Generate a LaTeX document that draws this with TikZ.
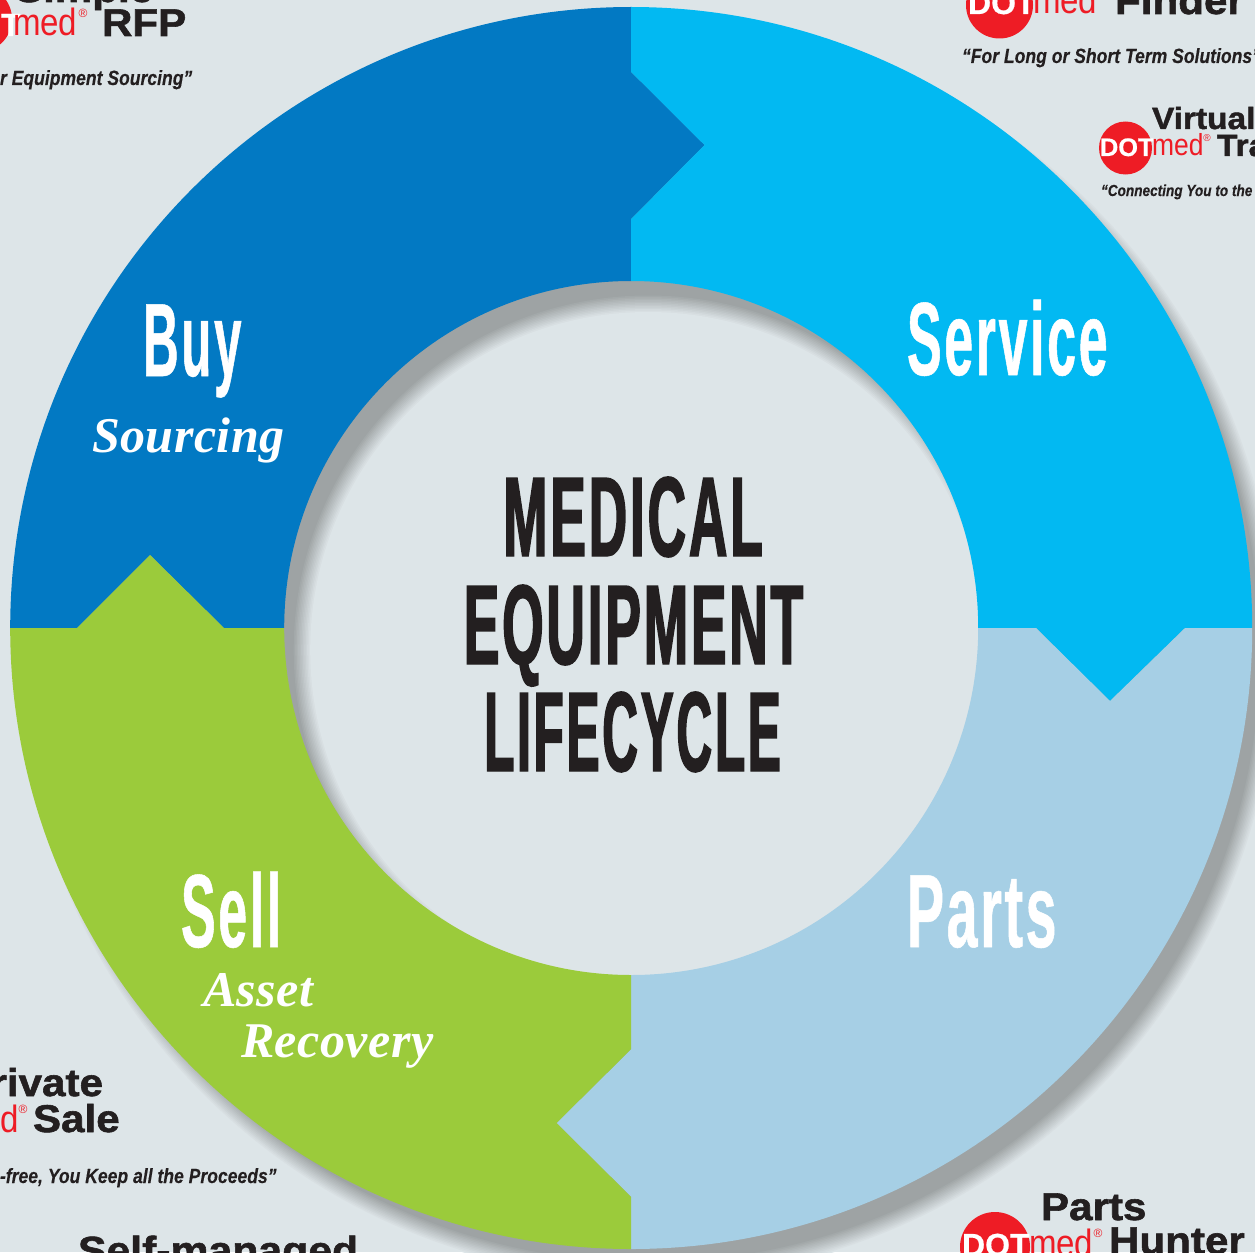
\documentclass[tikz,border=0pt]{standalone}
\usepackage{fontspec}
\setmainfont{Liberation Sans}
\newfontface\gothbig{Liberation Sans Bold}[FakeStretch=0.47,FakeBold=1.3,LetterSpace=2.5]
\newfontface\gothlife{Liberation Sans Bold}[FakeStretch=0.435,FakeBold=1.3,LetterSpace=2.5]
\newfontface\gothmid{Liberation Sans Bold}[FakeStretch=0.5,FakeBold=0.5,LetterSpace=2.5]
\newfontface\gothbuy{Liberation Sans Bold}[FakeStretch=0.475,FakeBold=0.5,LetterSpace=2.5]
\newfontface\gothpart{Liberation Sans Bold}[FakeStretch=0.535,FakeBold=0.5,LetterSpace=2.5]
\newfontface\ital{Liberation Serif Bold Italic}[LetterSpace=1]
\newfontface\heavy{Liberation Sans Bold}[FakeStretch=1.09,FakeBold=1.5]
\newfontface\tagf{Liberation Sans Bold Italic}[FakeStretch=0.85,FakeBold=0.2]
\newfontface\medf{Liberation Sans}[FakeStretch=0.87]
\newfontface\regf{Liberation Sans}
\newfontface\dotf{Liberation Sans Bold}[FakeBold=0.6]
\definecolor{bgc}{HTML}{DDE5E8}
\definecolor{buyc}{HTML}{0279C3}
\definecolor{servc}{HTML}{02B9F2}
\definecolor{partc}{HTML}{A6CFE5}
\definecolor{sellc}{HTML}{9BCB3B}
\definecolor{inkc}{HTML}{231F20}
\definecolor{redc}{HTML}{EE1C25}
\definecolor{shadc}{HTML}{9EA3A4}
\newcommand{\fsz}[1]{\fontsize{#1}{#1}\selectfont}
\tikzset{
  txt/.style={inner sep=0pt,outer sep=0pt,anchor=base},
  txtw/.style={inner sep=0pt,outer sep=0pt,anchor=base west},
  bigtitle/.style={txt,text=inkc,font=\gothbig\fsz{85pt}},
  stage/.style={txtw,text=white,font=\gothmid\fsz{78pt}},
  sub/.style={txtw,text=white,font=\ital\fsz{37.5pt}},
  heavytxt/.style={txtw,text=inkc,font=\heavy\fsz{29pt}},
  tagline/.style={txtw,text=inkc,font=\tagf\fsz{15.5pt}},
  redmed/.style={txtw,text=redc,font=\medf\fsz{28.5pt}},
  whitedot/.style={txtw,text=white,font=\dotf\fsz{19pt}},
  regmark/.style={inner sep=0pt,outer sep=0pt,anchor=center,text=redc,font=\regf\fsz{9pt}},
}
\begin{document}
\begin{tikzpicture}[x=0.75pt,y=0.75pt,yscale=-1]
\useasboundingbox (0,0) rectangle (1255,1252);
\clip (0,0) rectangle (1255,1252);
\fill[bgc] (0,0) rectangle (1255,1252);
\def\cx{631.2}\def\cy{628}\def\Ro{621}\def\Ri{347}
\def\dx{17}\def\dy{22}
% outer drop shadow, lightest to darkest
\foreach \k in {0,...,12}{
  \pgfmathsetmacro\mix{100*\k/12}
  \fill[shadc!\mix!bgc] (\cx+\dx,\cy+\dy) circle[radius={\Ro+9-1.5*\k}];
}
% shadow in the hole, dark to light
\foreach \k in {0,...,12}{
  \pgfmathsetmacro\mix{100-100*\k/12}
  \fill[shadc!\mix!bgc] (\cx+\dx,\cy+\dy) circle[radius={\Ri+9-1.5*\k}];
}
% ring segments
\fill[buyc] (\cx,\cy-\Ro) -- (\cx,72) -- (704.5,145) -- (\cx,219) -- (\cx,\cy-\Ri)
  arc[start angle=-90,end angle=-180,radius=\Ri] -- (224,\cy) -- (150,555) -- (77,\cy) -- (\cx-\Ro,\cy)
  arc[start angle=180,end angle=270,radius=\Ro] -- cycle;
\fill[servc] (\cx,\cy-\Ro) arc[start angle=-90,end angle=0,radius=\Ro]
  -- (1185,\cy) -- (1110,701) -- (1036,\cy) -- (\cx+\Ri,\cy)
  arc[start angle=0,end angle=-90,radius=\Ri] -- (\cx,219) -- (704.5,145) -- (\cx,72) -- cycle;
\fill[partc] (\cx+\Ro,\cy) arc[start angle=0,end angle=90,radius=\Ro]
  -- (\cx,1197) -- (556.5,1123) -- (\cx,1049) -- (\cx,\cy+\Ri)
  arc[start angle=90,end angle=0,radius=\Ri] -- (1036,\cy) -- (1110,701) -- (1185,\cy) -- cycle;
\fill[sellc] (\cx,\cy+\Ro) arc[start angle=90,end angle=180,radius=\Ro]
  -- (77,\cy) -- (150,555) -- (224,\cy) -- (\cx-\Ri,\cy)
  arc[start angle=180,end angle=90,radius=\Ri] -- (\cx,1049) -- (556.5,1123) -- (\cx,1197) -- cycle;
% centre title
\node[bigtitle] (t1) at (633,556) {MEDICAL};
\node[bigtitle] (t2) at (633.5,664) {EQUIPMENT};
\node[bigtitle,font=\gothlife\fsz{85pt}] (t3) at (632.5,771) {LIFECYCLE};
% stages
\node[stage,font=\gothbuy\fsz{78pt}] (buy) at (143,376) {Buy};
\node[stage] (serv) at (907,375) {Service};
\node[stage] (sell) at (181,947) {Sell};
\node[stage,font=\gothpart\fsz{78pt}] (parts) at (907,947) {Parts};
\node[sub] (s1) at (92,452) {Sourcing};
\node[sub] (s2) at (203,1006) {Asset};
\node[sub] (s3) at (241,1057) {Recovery};
% RFP logo
\fill[redc] (-21,19) circle[radius=33];
\node[heavytxt] (rfp0) at (15,2) {Simple};
\node[whitedot,font=\dotf\fsz{24pt}] (rfpd) at (-47,36) {DOT};
\node[redmed] (rfpm) at (13,36) {med};
\node[regmark] (rfpr) at (83,13) {®};
\node[heavytxt] (rfp) at (102,36) {RFP};
\node[tagline] (rfpt) at (0,85) {r Equipment Sourcing”};
% Finder logo
\fill[redc] (999.5,5) circle[radius=33.5];
\node[whitedot,font=\dotf\fsz{24pt}] (find) at (968,14) {DOT};
\node[redmed] (finm) at (1033,14) {med};
\node[heavytxt] (fin) at (1115,14) {Finder};
\node[tagline] (fint) at (962,63) {“For Long or Short Term Solutions”};
% Virtual logo
\fill[redc] (1125.5,148) circle[radius=26.5];
\node[whitedot] (vird) at (1100,156) {DOT};
\node[redmed,font=\medf\fsz{22.8pt}] (virm) at (1152,156) {med};
\node[regmark,font=\regf\fsz{7.5pt}] (virr) at (1207,138) {®};
\node[heavytxt,font=\heavy\fsz{23pt}] (vir) at (1152,129) {Virtual};
\node[heavytxt,font=\heavy\fsz{23pt}] (vir2) at (1217,156) {Tra};
\node[tagline,font=\tagf\fsz{12pt}] (virt) at (1101,196) {“Connecting You to the};
% Private sale logo
\node[heavytxt,anchor=base east] (pri) at (103,1096) {rivate};
\node[redmed] (prim) at (0,1132) {d};
\node[regmark] (prir) at (23,1109) {®};
\node[heavytxt] (pris) at (33,1132) {Sale};
\node[tagline] (prit) at (0,1183) {-free, You Keep all the Proceeds”};
% Self-managed
\node[heavytxt,font=\heavy\fsz{29.4pt}] (self) at (78,1264) {Self-managed};
% Parts hunter logo
\fill[redc] (995,1247) circle[radius=35];
\node[whitedot,font=\dotf\fsz{24pt}] (pard) at (962,1256) {DOT};
\node[redmed] (parm) at (1029,1256) {med};
\node[regmark] (parr) at (1098,1233) {®};
\node[heavytxt] (par1) at (1041,1220) {Parts};
\node[heavytxt] (par2) at (1109,1254) {Hunter};
\end{tikzpicture}
\end{document}
